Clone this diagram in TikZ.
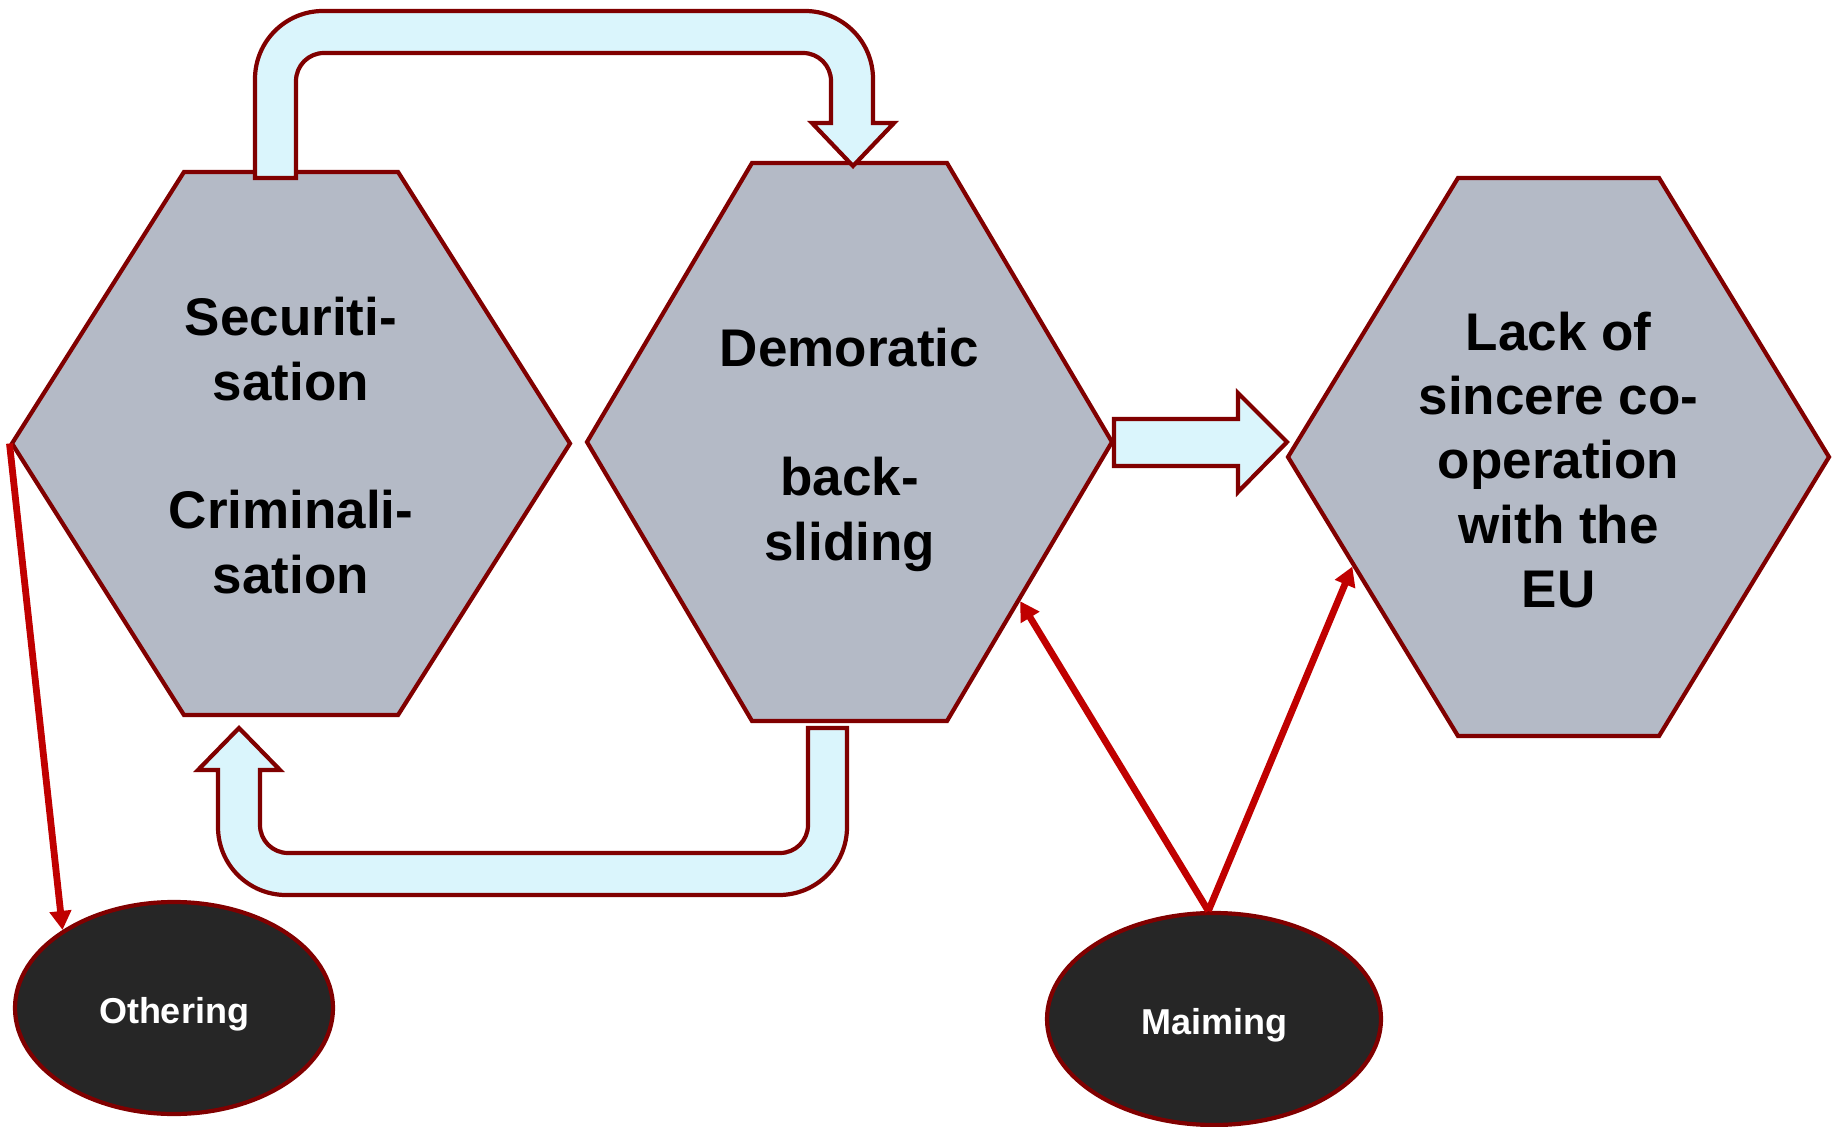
\documentclass[tikz,border=0pt]{standalone}
\usepackage{fontspec}
\setmainfont{Liberation Sans}
\usepackage{xcolor}
\usetikzlibrary{arrows.meta,shapes.symbols,shapes.geometric}

\definecolor{hexgrey}{RGB}{180,186,198}
\definecolor{darkred}{RGB}{128,0,0}
\definecolor{arrred}{RGB}{192,0,0}
\definecolor{lightcyan}{RGB}{218,245,252}
\definecolor{darkfill}{RGB}{38,38,38}

\begin{document}
\begin{tikzpicture}[x=0.5pt, y=-0.5pt, >={Triangle[length=9.5pt,width=10.5pt]}]
\tikzstyle{hexa}=[signal, signal to=east and west, signal from=nowhere, draw=darkred, line width=2.1pt, fill=hexgrey, inner sep=0pt]
\tikzstyle{hexlbl}=[align=center, font=\fontsize{26.5}{32.2}\selectfont\bfseries]
\tikzstyle{oval}=[ellipse, draw=darkred, line width=2.1pt, fill=darkfill, text=white, text height=15.2pt, text depth=0pt, font=\fontsize{18}{22}\selectfont\bfseries]
\tikzstyle{blk}=[draw=darkred, line width=2.1pt, fill=lightcyan, line join=miter]
\tikzstyle{infl}=[->, draw=arrred, line width=3.4pt]
\useasboundingbox (0,0) rectangle (1835,1127);

% three stages
\node[hexa, minimum width=279pt, minimum height=271.5pt, signal pointer angle=115.3] (sec) at (291,443.5) {};
\node[hexa, minimum width=262.5pt, minimum height=279pt, signal pointer angle=118.8] (dem) at (849.5,442) {};
\node[hexa, minimum width=270.5pt, minimum height=279pt, signal pointer angle=117.3] (lack) at (1558.5,457) {};
\node[hexlbl, yshift=-1pt] (sectxt) at (sec) {Securiti-\\sation\\[32.2pt]Criminali-\\sation};
\node[hexlbl, yshift=-4pt] (demtxt) at (dem) {Demoratic\\[32.2pt]back-\\sliding};
\node[hexlbl, yshift=-1.5pt] (lacktxt) at (lack) {Lack of\\sincere co-\\operation\\with the\\EU};

% mechanisms
\node[oval, minimum width=159pt, minimum height=106pt] (oth) at (174,1008) {Othering};
\node[oval, minimum width=167pt, minimum height=106pt] (maim) at (1214,1019) {Maiming};

% feedback loop
\draw[blk] (255,178) -- (255,79) arc[start angle=180, end angle=270, radius=68] -- (805,11) arc[start angle=270, end angle=360, radius=68] -- (873,123) -- (894,123) -- (853,166) -- (812,123) -- (831,123) -- (831,81) arc[start angle=0, end angle=-90, radius=28] -- (324,53) arc[start angle=270, end angle=180, radius=28] -- (296,178) -- cycle;
\draw[blk] (808,728) -- (847,728) -- (847,827) arc[start angle=0, end angle=90, radius=68] -- (286,895) arc[start angle=90, end angle=180, radius=68] -- (218,770) -- (198,770) -- (239,728) -- (280,770) -- (260,770) -- (260,825) arc[start angle=180, end angle=90, radius=28] -- (780,853) arc[start angle=90, end angle=0, radius=28] -- cycle;
\draw[blk] (1114,419) -- (1238,419) -- (1238,393) -- (1287,442) -- (1238,492) -- (1238,466) -- (1114,466) -- cycle;

\draw[infl] (sec.180) -- (oth.145);
\draw[infl] (maim.93) -- (dem.-43.5);
\draw[infl] (maim.93) -- (lack.208.6);
\end{tikzpicture}
\end{document}
